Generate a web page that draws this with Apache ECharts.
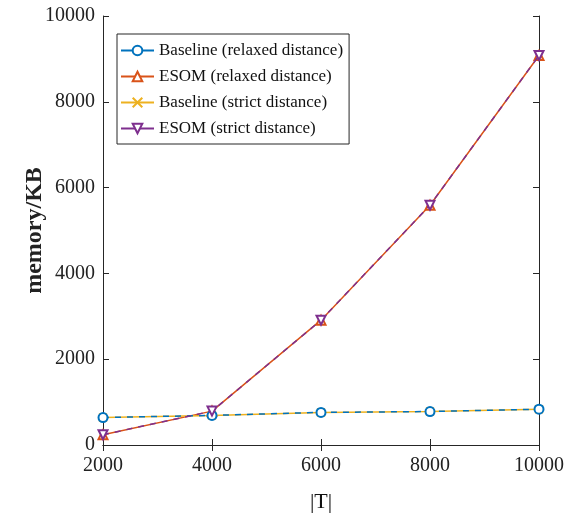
<!DOCTYPE html>
<html><head><meta charset="utf-8">
<script src="https://cdn.jsdelivr.net/npm/echarts@6/dist/echarts.min.js"></script>
<style>html,body{margin:0;padding:0;background:#fff}#c{width:576px;height:518px}</style>
</head><body><div id="c"></div>
<script>
const categories = [2000, 4000, 6000, 8000, 10000];
const baselineRelaxed = [640, 690, 760, 780, 835];
const esomRelaxed = [240, 790, 2910, 5590, 9080];
const baselineStrict = [640, 690, 760, 780, 835];
const esomStrict = [240, 790, 2910, 5590, 9080];
const seriesNames = ['Baseline (relaxed distance)', 'ESOM (relaxed distance)', 'Baseline (strict distance)', 'ESOM (strict distance)'];
const colors = ['#0072BD', '#D95319', '#EDB120', '#7E2F8E'];

const font = 'Liberation Serif';
const axisCol = '#262626';
function pairs(vals){ return categories.map((c,i)=>[c, vals[i]]); }
const fmt = v => String(v);

const chart = echarts.init(document.getElementById('c'));
const mk = (i, vals, symbol, z, dashed, extra) => Object.assign({
  name: seriesNames[i], type:'line', data: pairs(vals), symbol, symbolSize: 9, z,
  lineStyle:{color:colors[i], width:1.5, type: dashed ? [6,6] : 'solid'},
  itemStyle:{color:colors[i], borderColor:colors[i], borderWidth:1.4},
  emphasis:{disabled:true}, animation:false
}, extra||{});

chart.setOption({
  animation:false,
  grid:{left:103, right:37, top:16, bottom:71},
  legend:{
    orient:'vertical', left:117, top:34, itemGap:9, itemWidth:33, itemHeight:12,
    padding:[8,6,7,3], borderColor:axisCol, borderWidth:1, backgroundColor:'#fff',
    textStyle:{fontFamily:font, fontSize:17, color:'#111'},
    data: seriesNames.map(n => ({name:n, lineStyle:{type:'solid'}}))
  },
  xAxis:[{
    type:'value', min:2000, max:10000, interval:2000,
    name:'|T|', nameLocation:'middle', nameGap:46, nameMoveOverlap:false,
    nameTextStyle:{fontFamily:font, fontSize:22, color:'#111'},
    axisLine:{lineStyle:{color:axisCol, width:1}},
    axisTick:{inside:true, length:6, lineStyle:{color:axisCol}},
    axisLabel:{fontFamily:font, fontSize:20, color:'#222', margin:11, formatter:fmt},
    splitLine:{show:false}
  },{
    type:'value', position:'top', min:2000, max:10000, interval:2000,
    axisLine:{show:true, lineStyle:{color:axisCol, width:1}},
    axisTick:{inside:true, length:6, lineStyle:{color:axisCol}},
    axisLabel:{show:false}, splitLine:{show:false}
  }],
  yAxis:[{
    type:'value', min:0, max:10000, interval:2000,
    name:'memory/KB', nameLocation:'middle', nameGap:56, nameMoveOverlap:false,
    nameTextStyle:{fontFamily:font, fontSize:24, fontWeight:'bold', color:'#222'},
    axisLine:{show:true, lineStyle:{color:axisCol, width:1}},
    axisTick:{show:true, inside:true, length:6, lineStyle:{color:axisCol}},
    axisLabel:{fontFamily:font, fontSize:20, color:'#222', margin:8, formatter:fmt},
    splitLine:{show:false}
  },{
    type:'value', position:'right', min:0, max:10000, interval:2000,
    axisLine:{show:true, lineStyle:{color:axisCol, width:1}},
    axisTick:{show:true, inside:true, length:6, lineStyle:{color:axisCol}},
    axisLabel:{show:false}, splitLine:{show:false}
  }],
  series:[
    mk(0, baselineRelaxed, 'emptyCircle', 4, true),
    mk(1, esomRelaxed, 'emptyTriangle', 2, false),
    mk(2, baselineStrict, 'path://M0,0L10,10M10,0L0,10', 3, false, {symbolSize:8}),
    mk(3, esomStrict, 'emptyTriangle', 5, true, {symbolRotate:180})
  ]
});
</script></body></html>
